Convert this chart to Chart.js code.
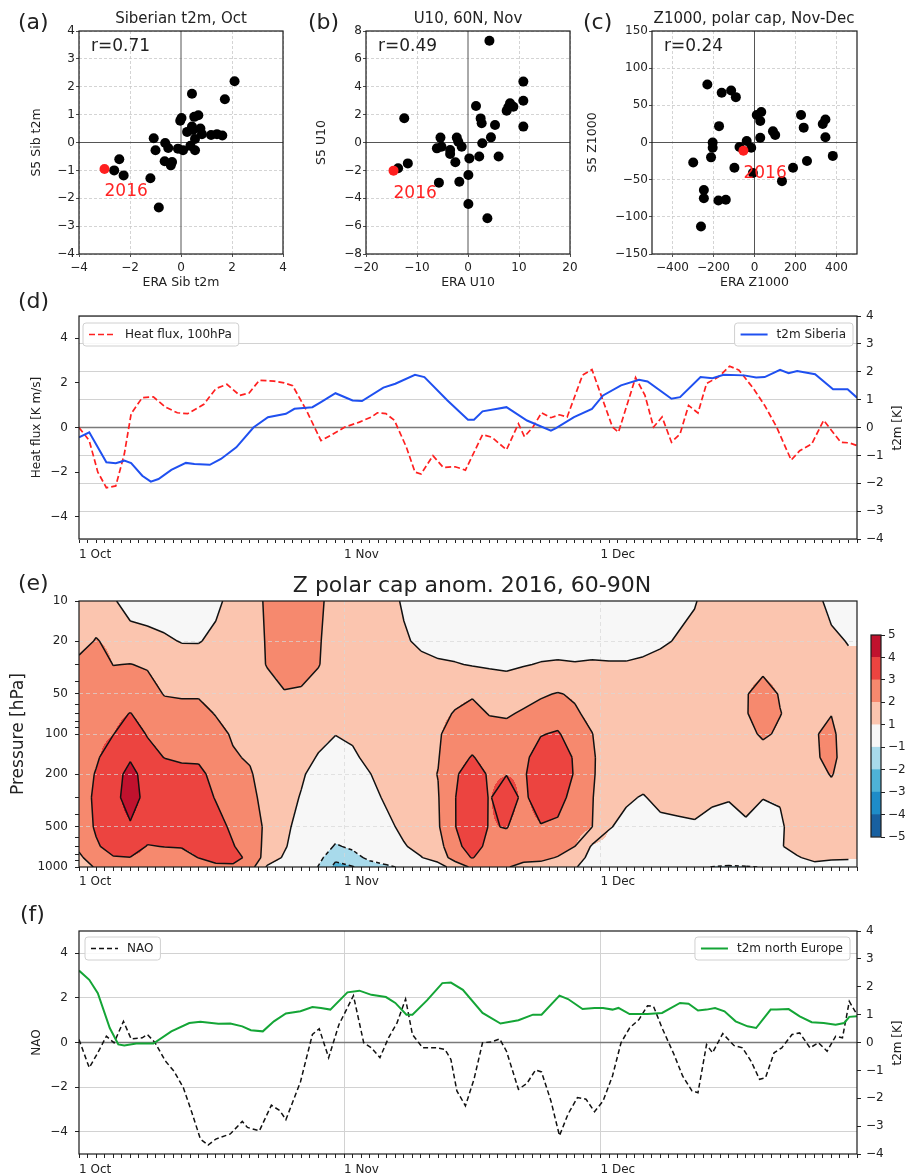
<!DOCTYPE html>
<html lang="en">
<head>
<meta charset="UTF-8">
<title>Autumn 2016: SEAS5 vs ERA, heat flux, polar cap Z, NAO</title>
<script src="https://cdn.jsdelivr.net/npm/chart.js"></script>
<style>
  body { margin: 0; background: #fff; }
  #fig { position: relative; width: 922px; height: 1174px; overflow: hidden;
         font-family: 'DejaVu Sans', sans-serif; color: #222; }
  #fig canvas { position: absolute; }
  .lbl { position: absolute; white-space: nowrap; line-height: 1; }
  .ctr { transform: translate(-50%, -50%); }
  .rot { transform: translate(-50%, -50%) rotate(-90deg); }
</style>
</head>
<body>
<div id="fig">
  <canvas id="cA" style="left:0;top:0" width="300" height="295"></canvas>
  <canvas id="cB" style="left:300px;top:0" width="285" height="295"></canvas>
  <canvas id="cC" style="left:585px;top:0" width="337" height="295"></canvas>
  <canvas id="cD" style="left:0;top:290px" width="922" height="270"></canvas>
  <canvas id="cE" style="left:0;top:560px" width="922" height="330"></canvas>
  <canvas id="cBar" style="left:860px;top:620px" width="62" height="232"></canvas>
  <canvas id="cF" style="left:0;top:890px" width="922" height="284"></canvas>

  <div class="lbl" style="left:18px;top:11px;font-size:22px">(a)</div>
  <div class="lbl" style="left:308px;top:11px;font-size:22px">(b)</div>
  <div class="lbl" style="left:583px;top:11px;font-size:22px">(c)</div>
  <div class="lbl" style="left:18px;top:290px;font-size:22px">(d)</div>
  <div class="lbl" style="left:18px;top:572px;font-size:22px">(e)</div>
  <div class="lbl" style="left:20px;top:903px;font-size:22px">(f)</div>

  <div class="lbl ctr" style="left:181px;top:18px;font-size:15px">Siberian t2m, Oct</div>
  <div class="lbl ctr" style="left:468px;top:18px;font-size:15px">U10, 60N, Nov</div>
  <div class="lbl ctr" style="left:754px;top:18px;font-size:15px">Z1000, polar cap, Nov-Dec</div>
  <div class="lbl ctr" style="left:472px;top:585px;font-size:22px">Z polar cap anom. 2016, 60-90N</div>
  <div class="lbl rot" style="left:897px;top:428px;font-size:12px">t2m [K]</div>
  <div class="lbl rot" style="left:897px;top:1043px;font-size:12px">t2m [K]</div>
</div>

<script>
// ---------- scatter panels: ERA (x) vs SEAS5 (y), one point per year ----------
const aEra = [2.1, 0.43, 1.72, 0.02, -0.03, 0.52, 0.68, 0.43, 0.24, 0.76, 0.47, 0.82, 0.55, 1.18, 1.41, 1.62,
              -1.07, -0.62, -1.0, -0.5, -0.12, 0.08, 0.37, 0.55, -0.64, -0.35, -0.4, -2.42, -2.62, -2.25, -1.2, -0.87];
const aS5  = [2.2, 1.75, 1.55, 0.88, 0.78, 0.92, 0.98, 0.57, 0.38, 0.5, 0.45, 0.3, 0.13, 0.27, 0.3, 0.25,
              0.15, -0.02, -0.28, -0.2, -0.22, -0.28, -0.12, -0.28, -0.67, -0.7, -0.82, -0.6, -1.0, -1.18, -1.28, -2.33];
const a2016 = [-3.0, -0.95];

const bEra = [4.2, 10.85, 10.85, 10.85, 1.57, 7.58, 8.24, 8.9, 7.9, 2.48, 2.68, 5.3, 4.5, 2.8, 6.0, 2.2, 0.26,
              -12.5, -5.4, -6.1, -5.2, -3.5, -3.5, -2.2, -1.9, -1.24, -2.48, -11.8, -13.7, -5.7, -1.7, 0.07, 0.07, 3.8];
const bS5  = [7.3, 4.37, 3.0, 1.14, 2.62, 2.28, 2.81, 2.57, 2.52, 1.73, 1.38, 1.26, 0.37, -0.06, -1.0, -1.0, -1.14,
              1.74, 0.35, -0.42, -0.3, -0.54, -0.83, 0.35, 0.06, -0.3, -1.42, -1.5, -1.85, -2.88, -2.81, -2.33, -4.41, -5.44];
const b2016 = [-14.6, -2.02];

const cEra = [-230, -160, -114, -91, -173, -204, -204, -212, -299, -247, -247, -176, -140, -261, -98, -73, -38,
              -16, -8, 11, 33, 28, 28, 90, 101, 134, 188, 227, 240, 256, 333, 346, 346, 382];
const cS5  = [78, 67, 70, 61, 22, 0, -7, -20, -27, -64, -75, -78, -77, -113, -34, -6, 2,
              -7, -41, 37, 41, 29, 6.5, 15, 10, -52, -34, 37, 20, -25, 25, 31, 7, -18];
const c2016 = [-54, -11];

const corrA = 'r=0.71', corrB = 'r=0.49', corrC = 'r=0.24';
const yearLabel = '2016';

const aXTicks = [-4, -2, 0, 2, 4], aYTicks = [-4, -3, -2, -1, 0, 1, 2, 3, 4];
const bXTicks = [-20, -10, 0, 10, 20], bYTicks = [-8, -6, -4, -2, 0, 2, 4, 6, 8];
const cXTicks = [-400, -200, 0, 200, 400], cYTicks = [-150, -100, -50, 0, 50, 100, 150];

// ---------- time series, day 0 = 1 Oct 2016 ----------
const monthStarts = [0, 31, 61];
const monthLabels = ['1 Oct', '1 Nov', '1 Dec'];
const dayTicks = Array.from({ length: 92 }, (_, i) => i);

const hfDays = [0, 1.2, 2.2, 3.2, 4.3, 5.3, 6.1, 7.4, 8.7, 10.1, 11.5, 12.7, 14.6, 16, 17.3, 18.8, 19.9, 21.1, 22.8, 24,
                25, 26.6, 28.3, 29.4, 31.1, 32.8, 34.2, 34.9, 35.9, 36.9, 38.3, 39.3, 40, 41.4, 42.6, 44, 45.2, 47.2,
                48.3, 50, 51.4, 52.1, 53.1, 54.1, 55.2, 56.2, 57.1, 58.9, 60, 61, 62.4, 63.1, 65.1, 66.2, 67.2, 68.2,
                69.3, 70.3, 71.3, 72.4, 73.4, 74.8, 76.1, 77.2, 78.9, 80.2, 81.6, 83.3, 84.3, 85.7, 87.1, 89.1, 90.1, 91];
const heatFlux = [0, -0.59, -2.0, -2.7, -2.62, -1.19, 0.62, 1.34, 1.37, 0.92, 0.66, 0.62, 1.04, 1.74, 1.94, 1.44, 1.55, 2.12, 2.08, 2.0,
                  1.87, 0.77, -0.59, -0.36, 0.02, 0.24, 0.47, 0.66, 0.62, 0.32, -0.89, -2.0, -2.09, -1.26, -1.79, -1.76, -1.91, -0.32,
                  -0.44, -1.0, 0.17, -0.41, 0.02, 0.66, 0.44, 0.57, 0.47, 2.35, 2.6, 1.52, 0.02, -0.21, 2.24, 1.44, 0.02, 0.47,
                  -0.66, -0.29, 0.99, 0.65, 1.97, 2.27, 2.75, 2.57, 1.74, 0.99, 0.02, -1.46, -1.04, -0.74, 0.32, -0.66, -0.69, -0.81];

const sibDays = [0, 1.2, 3.2, 4.3, 5.3, 6.1, 7.4, 8.4, 9.3, 10.8, 12.5, 13.5, 15.3, 16.6, 18.4, 20.4, 22.1, 24.2, 25.2, 27.3,
                 28.3, 30, 32, 33.1, 35.6, 37, 39.3, 40.4, 43.1, 45.5, 46.2, 47.2, 50, 52.4, 55.2, 55.8, 57.9, 60, 61.3, 63.4,
                 65.5, 66.5, 69.3, 70.3, 72.7, 74.1, 75.4, 77.8, 79.2, 80.2, 82, 83, 84, 86.1, 88.2, 89.9, 91];
const sibT2m = [-0.35, -0.17, -1.25, -1.28, -1.19, -1.28, -1.73, -1.94, -1.85, -1.52, -1.27, -1.31, -1.34, -1.13, -0.71, 0, 0.37, 0.49, 0.67, 0.73,
                0.91, 1.23, 0.97, 0.95, 1.43, 1.57, 1.89, 1.81, 0.97, 0.28, 0.28, 0.58, 0.73, 0.25, -0.11, -0.02, 0.37, 0.67, 1.15, 1.51,
                1.71, 1.65, 1.03, 1.09, 1.81, 1.77, 1.89, 1.87, 1.79, 1.81, 2.07, 1.95, 2.03, 1.91, 1.37, 1.37, 1.07];

const naoDays = [0, 1.2, 2.2, 3.2, 4.1, 5.2, 6.1, 7.4, 8, 8.9, 10.1, 11.1, 12.2, 13.2, 14.2, 15.1, 16, 17.7, 19.1, 19.7, 21.1,
                 22.5, 23.5, 24.2, 25.9, 27.3, 28.1, 29.2, 30.4, 32.1, 33.3, 34.2, 35.2, 36.2, 37.2, 38.2, 39, 40.2, 41.8,
                 42.8, 43.5, 44.2, 45.2, 46.2, 47.2, 48.3, 49.2, 50, 51.4, 52.4, 53.4, 54.1, 55.2, 56.2, 57.2, 58.3, 59.3,
                 60.3, 61.3, 62.4, 63.4, 64.4, 65.5, 66.5, 67.2, 68.2, 69.6, 70.6, 71.7, 72.4, 73.4, 74.1, 75.3, 76.6, 77.6,
                 78.6, 79.6, 80.3, 81.3, 82.2, 83.4, 84.3, 85.5, 86.5, 87.5, 88.5, 89.3, 90.1, 91];
const nao = [0.13, -1.13, -0.46, 0.28, -0.01, 0.95, 0.16, 0.21, 0.36, -0.01, -0.83, -1.28, -2.02, -3.14, -4.33, -4.6, -4.33, -4.1, -3.54, -3.81, -3.96,
             -2.81, -3.06, -3.46, -1.77, 0.36, 0.62, -0.68, 0.8, 2.1, -0.01, -0.24, -0.68, 0.21, 0.88, 1.95, 0.36, -0.24, -0.24,
             -0.31, -0.76, -2.17, -2.84, -1.65, -0.01, 0.03, 0.16, -0.39, -2.1, -1.83, -1.23, -1.32, -2.62, -4.18, -3.21, -2.47, -2.54,
             -3.1, -2.62, -1.5, -0.01, 0.65, 1.03, 1.65, 1.62, 0.65, -0.54, -1.5, -2.17, -2.25, -0.09, -0.46, 0.4, -0.13, -0.24,
             -0.83, -1.65, -1.58, -0.46, -0.24, 0.36, 0.43, -0.24, -0.01, -0.39, 0.28, 0.21, 1.84, 1.25];

const neuDays = [0, 1.2, 2.2, 3.6, 4.6, 5.3, 6.7, 8.7, 10.8, 12.9, 14.2, 16.3, 17.7, 19.1, 20.1, 21.5, 22.8, 24.2, 25.9, 27.3,
                 28.3, 29.4, 31.4, 32.8, 34.2, 35.9, 37, 38.3, 39, 40.7, 42.5, 43.5, 44.9, 47.2, 49.3, 51.4, 53.1, 54.1,
                 56.2, 57.2, 58.9, 60.3, 61.3, 62.4, 63.1, 64.4, 66.5, 68.2, 70.3, 71.3, 72.4, 73.4, 74.4, 75.5, 76.8,
                 78.2, 79.2, 80.9, 81.6, 83, 84.3, 85.7, 87.1, 88.5, 89.5, 90.1, 91];
const neuT2m = [2.58, 2.25, 1.77, 0.52, -0.07, -0.11, -0.04, -0.04, 0.4, 0.7, 0.74, 0.67, 0.68, 0.58, 0.44, 0.4, 0.76, 1.04, 1.12, 1.27,
                1.24, 1.18, 1.8, 1.86, 1.71, 1.63, 1.42, 1.0, 1.0, 1.51, 2.13, 2.15, 1.89, 1.06, 0.68, 0.8, 1.0, 1.0,
                1.68, 1.56, 1.2, 1.24, 1.24, 1.18, 1.24, 1.02, 1.02, 1.06, 1.42, 1.39, 1.15, 1.18, 1.24, 1.12, 0.76,
                0.58, 0.52, 1.18, 1.18, 1.2, 0.94, 0.73, 0.7, 0.64, 0.7, 0.92, 0.94];

const fluxTicks = [-4, -2, 0, 2, 4];
const tempTicks = [-4, -3, -2, -1, 0, 1, 2, 3, 4];

// ---------- polar cap Z anomaly (days x pressure levels) ----------
const zDays = Array.from({ length: 46 }, (_, i) => 2 * i);
const zLevels = [10, 20, 30, 50, 70, 100, 150, 200, 300, 500, 700, 850, 1000];
const z10   = [1.6, 1.5, 1.1, 0.6, 0.5, 0.4, 0.3, 0.4, 0.8, 1.3, 1.4, 2.2, 2.5, 2.5, 2.2, 1.6, 1.7, 1.6, 1.3, 0.9, 0.5, 0.4, 0.3,
               0.2, 0.2, 0.2, 0.3, 0.3, 0.3, 0.3, 0.3, 0.4, 0.4, 0.5, 0.6, 0.8, 0.95, 1.3, 1.4, 1.5, 1.5, 1.5, 1.5, 1.3, 0.7, 0.4];
const z20   = [1.7, 2.05, 1.8, 1.4, 1.3, 1.15, 0.95, 0.95, 1.2, 1.4, 1.4, 2.1, 2.4, 2.4, 2.1, 1.5, 1.6, 1.5, 1.4, 1.1, 0.85, 0.7, 0.6,
               0.5, 0.4, 0.4, 0.5, 0.6, 0.6, 0.6, 0.6, 0.7, 0.7, 0.8, 0.9, 1.05, 1.2, 1.4, 1.5, 1.6, 1.6, 1.6, 1.5, 1.4, 1.2, 0.95];
const z30   = [2.2, 2.5, 1.98, 2.02, 1.9, 1.6, 1.5, 1.45, 1.5, 1.5, 1.5, 2.05, 2.3, 2.3, 2.05, 1.5, 1.5, 1.5, 1.4, 1.3, 1.2, 1.1, 1.05,
               0.95, 0.9, 0.85, 0.95, 1.05, 1.1, 1.05, 1.1, 1.05, 1.05, 1.1, 1.2, 1.3, 1.4, 1.5, 1.5, 1.7, 1.8, 1.7, 1.6, 1.5, 1.5, 1.2];
const z50   = [2.5, 2.7, 2.5, 2.5, 2.4, 1.95, 1.9, 1.9, 1.7, 1.6, 1.5, 1.6, 1.95, 1.9, 1.6, 1.4, 1.4, 1.4, 1.4, 1.4, 1.5, 1.6, 1.8,
               1.9, 1.6, 1.5, 1.7, 1.9, 2.05, 1.9, 1.6, 1.4, 1.4, 1.4, 1.5, 1.5, 1.5, 1.5, 1.5, 1.95, 2.3, 1.95, 1.7, 1.6, 1.7, 1.5];
const z70   = [2.6, 2.8, 2.8, 3.02, 2.7, 2.4, 2.3, 2.3, 1.95, 1.7, 1.6, 1.4, 1.6, 1.6, 1.4, 1.25, 1.3, 1.35, 1.4, 1.5, 1.6, 1.8, 2.05,
               2.3, 1.95, 1.9, 2.1, 2.3, 2.5, 2.1, 1.8, 1.5, 1.5, 1.5, 1.5, 1.5, 1.5, 1.5, 1.5, 1.95, 2.35, 2.02, 1.8, 1.8, 1.98, 1.6];
const z100  = [2.6, 2.8, 2.98, 3.4, 2.95, 2.7, 2.6, 2.6, 2.3, 1.9, 1.7, 1.4, 1.5, 1.4, 1.2, 1.02, 1.1, 1.3, 1.4, 1.5, 1.6, 1.9, 2.4,
               2.6, 2.4, 2.3, 2.5, 2.95, 3.1, 2.5, 2.02, 1.6, 1.5, 1.5, 1.5, 1.5, 1.5, 1.5, 1.5, 1.8, 2.1, 1.9, 1.7, 1.95, 2.15, 1.6];
const z150  = [2.6, 2.9, 3.4, 3.9, 3.3, 2.98, 2.9, 2.9, 2.6, 2.1, 1.9, 1.4, 1.4, 1.25, 0.95, 0.7, 0.9, 1.15, 1.3, 1.5, 1.7, 1.95, 2.7,
               3.05, 2.7, 2.7, 2.8, 3.4, 3.5, 2.9, 2.1, 1.6, 1.5, 1.5, 1.5, 1.5, 1.5, 1.5, 1.45, 1.6, 1.7, 1.6, 1.6, 1.9, 2.2, 1.6];
const z200  = [2.6, 3.05, 3.6, 4.3, 3.6, 3.4, 3.2, 3.15, 2.8, 2.4, 2.1, 1.5, 1.35, 1.1, 0.7, 0.5, 0.7, 0.98, 1.25, 1.45, 1.75, 2.02, 2.9,
               3.4, 2.9, 2.98, 2.9, 3.5, 3.4, 2.95, 2.1, 1.55, 1.4, 1.3, 1.4, 1.4, 1.45, 1.4, 1.35, 1.4, 1.4, 1.4, 1.5, 1.7, 2.05, 1.6];
const z300  = [2.6, 3.15, 3.7, 4.4, 3.7, 3.6, 3.5, 3.4, 2.95, 2.6, 2.3, 1.6, 1.3, 0.95, 0.4, 0.2, 0.4, 0.8, 1.1, 1.35, 1.7, 1.95, 2.98,
               3.6, 2.95, 3.35, 2.85, 3.4, 3.2, 2.8, 2.05, 1.4, 1.1, 0.95, 1.2, 1.25, 1.3, 1.1, 1.05, 1.2, 1.02, 1.05, 1.4, 1.5, 1.7, 1.5];
const z500  = [2.5, 3.1, 3.6, 3.9, 3.5, 3.5, 3.4, 3.4, 3.3, 2.85, 2.5, 1.8, 1.2, 0.7, 0.1, -0.3, 0.02, 0.4, 0.85, 1.15, 1.5, 1.9, 2.98,
               3.5, 2.95, 3.03, 2.7, 2.95, 2.9, 2.5, 2.02, 1.05, 0.8, 0.6, 0.8, 0.85, 0.9, 0.8, 0.7, 0.9, 0.7, 0.9, 1.3, 1.4, 1.5, 1.4];
const z700  = [2.2, 2.9, 3.3, 3.5, 2.95, 3.02, 3.05, 3.2, 3.4, 3.05, 2.6, 1.7, 1.1, 0.5, -0.3, -1.12, -0.8, 0.02, 0.5, 0.95, 1.2, 1.6, 2.8,
               3.3, 2.8, 2.7, 2.5, 2.6, 2.4, 2.0, 0.9, 0.7, 0.6, 0.5, 0.5, 0.5, 0.5, 0.5, 0.4, 0.5, 0.4, 0.95, 1.2, 1.3, 1.4, 1.3];
const z850  = [1.8, 2.6, 2.95, 2.98, 2.7, 2.7, 2.7, 3.02, 3.3, 3.2, 2.85, 1.5, 0.9, 0.3, -0.7, -1.75, -1.4, -0.75, 0.0, 0.6, 0.97, 1.3, 2.5,
               3.05, 2.5, 2.4, 2.2, 2.2, 1.95, 1.6, 0.6, 0.5, 0.4, 0.3, 0.3, 0.3, 0.2, 0.2, 0.1, 0.2, 0.2, 0.6, 0.95, 1.15, 1.1, 1.05];
const z1000 = [1.5, 2.1, 2.5, 2.6, 2.5, 2.5, 2.4, 2.6, 2.8, 2.9, 2.4, 0.9, 0.6, 0.1, -1.05, -2.3, -2.05, -1.5, -1.3, -0.7, 0.4, 0.7, 1.3,
               2.2, 2.1, 2.05, 1.8, 1.7, 1.4, 1.1, 0.4, 0.3, 0.2, 0.2, 0.2, 0.1, -0.3, -1.05, -1.2, -1.1, -0.95, 0.3, 0.5, 0.8, 0.7, 0.8];
const zField = [z10, z20, z30, z50, z70, z100, z150, z200, z300, z500, z700, z850, z1000];
const pTicks = [10, 20, 30, 40, 50, 60, 70, 80, 90, 100, 200, 300, 400, 500, 600, 700, 800, 900, 1000];
const pLabelled = [10, 20, 50, 100, 200, 500, 1000];

const zEdges = [-5, -4, -3, -2, -1, 1, 2, 3, 4, 5];
const bandRGB = [[24, 96, 160], [30, 140, 200], [78, 178, 215], [168, 218, 235], [247, 247, 247],
                 [251, 197, 175], [246, 137, 110], [236, 68, 64], [193, 18, 46]];

// ---------- helpers ----------
Chart.defaults.font.family = "'DejaVu Sans', sans-serif";
Chart.defaults.color = '#222';

const fmt = v => String(v).replace('-', '\u2212');
const setTicks = vals => ax => { ax.ticks = vals.map(v => ({ value: v })); };
const pts = (xs, ys) => xs.map((x, i) => ({ x, y: ys[i] }));
const isZero = c => c.tick && c.tick.value === 0;

const framePlugin = {
  id: 'frame',
  afterDatasetsDraw(chart) {
    const { ctx, chartArea: a } = chart;
    ctx.save();
    ctx.strokeStyle = '#1a1a1a';
    ctx.lineWidth = 1.2;
    ctx.strokeRect(a.left, a.top, a.right - a.left, a.bottom - a.top);
    ctx.restore();
  }
};

// axhline / axvline at zero
const zeroLines = {
  id: 'zeroLines',
  beforeDatasetsDraw(chart, args, opts) {
    const { ctx, chartArea: a, scales } = chart;
    ctx.save();
    ctx.strokeStyle = opts.color || '#555';
    ctx.lineWidth = opts.width || 1;
    ctx.beginPath();
    if (opts.x) {
      const px = scales.x.getPixelForValue(0);
      ctx.moveTo(px, a.top); ctx.lineTo(px, a.bottom);
    }
    if (opts.y) {
      const py = scales.y.getPixelForValue(0);
      ctx.moveTo(a.left, py); ctx.lineTo(a.right, py);
    }
    ctx.stroke();
    ctx.restore();
  }
};

// correlation text and year label next to the red point
const notes = {
  id: 'notes',
  afterDatasetsDraw(chart, args, opts) {
    const { ctx, chartArea: a, scales: { x, y } } = chart;
    const p = chart.data.datasets[0].data[0];
    ctx.save();
    ctx.font = "17px 'DejaVu Sans'";
    ctx.textAlign = 'left';
    ctx.textBaseline = 'middle';
    ctx.fillStyle = '#222';
    ctx.fillText(opts.r, a.left + 12, a.top + 16);
    ctx.textBaseline = 'alphabetic';
    ctx.fillStyle = '#ff2424';
    ctx.fillText(yearLabel, x.getPixelForValue(p.x), y.getPixelForValue(p.y) + 27);
    ctx.restore();
  }
};

// matplotlib-like legend box inside the axes
const boxLegend = {
  id: 'boxLegend',
  afterDatasetsDraw(chart, args, opts) {
    const { ctx, chartArea: a } = chart;
    (opts.items || []).forEach(it => {
      const ds = chart.data.datasets[it.ds];
      ctx.save();
      ctx.font = "12px 'DejaVu Sans'";
      const w = 42 + ctx.measureText(ds.label).width + 7, h = 23;
      const bx = it.side === 'left' ? a.left + it.dx : a.right - it.dx - w;
      const by = a.top + it.dy;
      ctx.beginPath();
      ctx.roundRect(bx, by, w, h, 3);
      ctx.fillStyle = 'rgba(255,255,255,0.85)';
      ctx.fill();
      ctx.strokeStyle = '#d0d0d0';
      ctx.lineWidth = 1;
      ctx.stroke();
      ctx.beginPath();
      ctx.strokeStyle = ds.borderColor;
      ctx.lineWidth = ds.borderWidth;
      ctx.setLineDash(ds.borderDash || []);
      ctx.moveTo(bx + 6, by + h / 2);
      ctx.lineTo(bx + 33, by + h / 2);
      ctx.stroke();
      ctx.setLineDash([]);
      ctx.fillStyle = '#222';
      ctx.textBaseline = 'middle';
      ctx.fillText(ds.label, bx + 42, by + h / 2 + 0.5);
      ctx.restore();
    });
  }
};

function scatterPanel(id, o) {
  return new Chart(document.getElementById(id), {
    type: 'scatter',
    data: {
      datasets: [
        { data: [{ x: o.red[0], y: o.red[1] }], backgroundColor: '#ff1f1f', pointRadius: 5, borderWidth: 0 },
        { data: pts(o.xs, o.ys), backgroundColor: '#000', pointRadius: 5, borderWidth: 0 }
      ]
    },
    options: {
      responsive: false, animation: false, events: [],
      layout: { padding: { top: 31, right: o.padRight, left: 0, bottom: 0 } },
      plugins: { legend: { display: false }, tooltip: { enabled: false },
                 zeroLines: { x: true, y: true, color: '#555', width: 1 }, notes: { r: o.r } },
      scales: {
        x: {
          type: 'linear', min: o.xRange[0], max: o.xRange[1],
          afterBuildTicks: setTicks(o.xTicks), afterFit: ax => { ax.height = 41; },
          ticks: { autoSkip: false, maxRotation: 0, padding: 4, font: { size: 12 }, callback: fmt },
          grid: { color: c => isZero(c) ? 'rgba(0,0,0,0)' : '#c9c9c9', lineWidth: 0.8, tickLength: 3, tickColor: '#222' },
          border: { display: false, dash: [3, 2] },
          title: { display: true, text: o.xTitle, font: { size: 12.5 }, padding: { top: 0, bottom: 4.5 } }
        },
        y: {
          type: 'linear', min: o.yRange[0], max: o.yRange[1],
          afterBuildTicks: setTicks(o.yTicks), afterFit: ax => { ax.width = o.yWidth; },
          ticks: { autoSkip: false, padding: 1, font: { size: 12 }, callback: fmt },
          grid: { color: c => isZero(c) ? 'rgba(0,0,0,0)' : '#c9c9c9', lineWidth: 0.8, tickLength: 3, tickColor: '#222' },
          border: { display: false, dash: [3, 2] },
          title: { display: true, text: o.yTitle, font: { size: 12.5 }, padding: { top: o.yTitlePad, bottom: 0 } }
        }
      }
    },
    plugins: [zeroLines, framePlugin, notes]
  });
}

scatterPanel('cA', { xs: aEra, ys: aS5, red: a2016, r: corrA, xRange: [-4, 4], yRange: [-4, 4],
  xTicks: aXTicks, yTicks: aYTicks, xTitle: 'ERA Sib t2m', yTitle: 'S5 Sib t2m', yWidth: 79, yTitlePad: 29.5, padRight: 17 });
scatterPanel('cB', { xs: bEra, ys: bS5, red: b2016, r: corrB, xRange: [-20, 20], yRange: [-8, 8],
  xTicks: bXTicks, yTicks: bYTicks, xTitle: 'ERA U10', yTitle: 'S5 U10', yWidth: 66, yTitlePad: 14.5, padRight: 15 });
scatterPanel('cC', { xs: cEra, ys: cS5, red: c2016, r: corrC, xRange: [-500, 500], yRange: [-150, 150],
  xTicks: cXTicks, yTicks: cYTicks, xTitle: 'ERA Z1000', yTitle: 'S5 Z1000', yWidth: 67, yTitlePad: 0, padRight: 65 });

// ---------- time axis shared by (d), (e), (f) ----------
function timeAxis(height, vgrid, dashed, pad) {
  return {
    type: 'linear', min: 0, max: 91,
    afterBuildTicks: setTicks(dayTicks), afterFit: ax => { ax.height = height; },
    ticks: { autoSkip: false, maxRotation: 0, align: 'start', padding: pad, font: { size: 12 },
             callback: v => { const k = monthStarts.indexOf(v); return k >= 0 ? monthLabels[k] : ''; } },
    grid: { drawOnChartArea: vgrid, tickLength: 4, tickColor: '#222',
            color: c => (c.tick && monthStarts.indexOf(c.tick.value) > 0) ? (dashed ? 'rgba(215,215,215,0.7)' : '#d2d2d2') : 'rgba(0,0,0,0)' },
    border: { display: false, dash: dashed ? [4, 3] : [] }
  };
}

function seriesPanel(id, o) {
  return new Chart(document.getElementById(id), {
    type: 'scatter',
    data: {
      datasets: o.series.map(s => ({
        label: s.label, data: pts(s.days, s.vals), yAxisID: s.axis, showLine: true, pointRadius: 0,
        borderColor: s.color, borderWidth: s.width, borderDash: s.dash || [], fill: false, tension: 0
      }))
    },
    options: {
      responsive: false, animation: false, events: [],
      layout: { padding: { top: o.top, left: 0, right: 0, bottom: 0 } },
      plugins: { legend: { display: false }, tooltip: { enabled: false },
                 zeroLines: { y: true, color: '#7a7a7a', width: 1.6 }, boxLegend: { items: o.legend } },
      scales: {
        x: timeAxis(o.xHeight, o.vgrid, false, 5),
        y: {
          position: 'left', min: -5, max: 5,
          afterBuildTicks: setTicks(fluxTicks), afterFit: ax => { ax.width = 79; },
          ticks: { autoSkip: false, padding: 7, font: { size: 12 }, callback: fmt },
          grid: { drawOnChartArea: o.leftGrid, color: c => isZero(c) ? 'rgba(0,0,0,0)' : '#d2d2d2', tickLength: 4, tickColor: '#222' },
          border: { display: false },
          title: { display: true, text: o.yTitle, font: { size: 12 }, padding: { top: 29.5, bottom: 0 } }
        },
        y1: {
          position: 'right', min: -4, max: 4,
          afterBuildTicks: setTicks(tempTicks), afterFit: ax => { ax.width = 65; },
          ticks: { autoSkip: false, padding: 5, font: { size: 12 }, callback: fmt },
          grid: { drawOnChartArea: !o.leftGrid, color: c => isZero(c) ? 'rgba(0,0,0,0)' : '#d2d2d2', tickLength: 4, tickColor: '#222' },
          border: { display: false }
        }
      }
    },
    plugins: [zeroLines, framePlugin, boxLegend]
  });
}

seriesPanel('cD', {
  top: 26, xHeight: 21, vgrid: false, leftGrid: false, yTitle: 'Heat flux [K m/s]',
  series: [
    { label: 't2m Siberia', days: sibDays, vals: sibT2m, axis: 'y1', color: '#1f50f0', width: 2 },
    { label: 'Heat flux, 100hPa', days: hfDays, vals: heatFlux, axis: 'y', color: '#ff2020', width: 1.7, dash: [6, 3] }
  ],
  legend: [{ ds: 1, side: 'left', dx: 4, dy: 7 }, { ds: 0, side: 'right', dx: 4, dy: 7 }]
});

seriesPanel('cF', {
  top: 41, xHeight: 20, vgrid: true, leftGrid: true, yTitle: 'NAO',
  series: [
    { label: 't2m north Europe', days: neuDays, vals: neuT2m, axis: 'y1', color: '#14a536', width: 2 },
    { label: 'NAO', days: naoDays, vals: nao, axis: 'y', color: '#111', width: 1.5, dash: [5, 3] }
  ],
  legend: [{ ds: 1, side: 'left', dx: 6, dy: 6 }, { ds: 0, side: 'right', dx: 7, dy: 6 }]
});

// ---------- (e) filled contours ----------
function bandIndex(v) {
  let k = 0;
  while (k < bandRGB.length - 1 && v >= zEdges[k + 1]) k++;
  return k;
}

const contourPlot = {
  id: 'contourPlot',
  beforeDraw(chart) {
    const { ctx, chartArea: a, scales: { x, y } } = chart;
    const W = Math.round(a.right - a.left), H = Math.round(a.bottom - a.top);
    const lp = zLevels.map(Math.log10);
    const nd = zDays.length, nl = lp.length;
    const cols = [], rows = [];
    for (let i = 0; i < W; i++) {
      const d = Math.min(Math.max(x.getValueForPixel(a.left + i + 0.5), zDays[0]), zDays[nd - 1]);
      let k = 0;
      while (k < nd - 2 && d > zDays[k + 1]) k++;
      cols.push([k, (d - zDays[k]) / (zDays[k + 1] - zDays[k])]);
    }
    for (let j = 0; j < H; j++) {
      const l = Math.min(Math.max(Math.log10(y.getValueForPixel(a.top + j + 0.5)), lp[0]), lp[nl - 1]);
      let k = 0;
      while (k < nl - 2 && l > lp[k + 1]) k++;
      rows.push([k, (l - lp[k]) / (lp[k + 1] - lp[k])]);
    }
    const img = ctx.createImageData(W, H);
    for (let j = 0; j < H; j++) {
      const [r, ty] = rows[j];
      const z0 = zField[r], z1 = zField[r + 1];
      for (let i = 0; i < W; i++) {
        const [c, tx] = cols[i];
        const v = (1 - ty) * ((1 - tx) * z0[c] + tx * z0[c + 1]) + ty * ((1 - tx) * z1[c] + tx * z1[c + 1]);
        const rgb = bandRGB[bandIndex(v)];
        const p = 4 * (j * W + i);
        img.data[p] = rgb[0]; img.data[p + 1] = rgb[1]; img.data[p + 2] = rgb[2]; img.data[p + 3] = 255;
      }
    }
    ctx.putImageData(img, Math.round(a.left), Math.round(a.top));
  },
  afterDatasetsDraw(chart) {
    const { ctx, chartArea: a, scales: { x, y } } = chart;
    const lp = zLevels.map(Math.log10);
    const toPx = q => [x.getPixelForValue(q[0]), y.getPixelForValue(Math.pow(10, q[1]))];
    ctx.save();
    ctx.beginPath();
    ctx.rect(a.left, a.top, a.right - a.left, a.bottom - a.top);
    ctx.clip();
    ctx.strokeStyle = '#111';
    ctx.lineWidth = 1.5;
    ctx.lineJoin = 'round';
    zEdges.forEach(level => {
      ctx.setLineDash(level < 0 ? [4, 3] : []);
      ctx.beginPath();
      for (let j = 0; j < lp.length - 1; j++) {
        for (let i = 0; i < zDays.length - 1; i++) {
          const cr = [[zDays[i], lp[j], zField[j][i]], [zDays[i + 1], lp[j], zField[j][i + 1]],
                      [zDays[i + 1], lp[j + 1], zField[j + 1][i + 1]], [zDays[i], lp[j + 1], zField[j + 1][i]]];
          const hits = [];
          for (let k = 0; k < 4; k++) {
            const p = cr[k], q = cr[(k + 1) % 4];
            if ((p[2] >= level) !== (q[2] >= level)) {
              const t = (level - p[2]) / (q[2] - p[2]);
              hits.push([p[0] + t * (q[0] - p[0]), p[1] + t * (q[1] - p[1])]);
            }
          }
          let segs = [];
          if (hits.length === 2) segs = [[hits[0], hits[1]]];
          else if (hits.length === 4) {
            const mid = (cr[0][2] + cr[1][2] + cr[2][2] + cr[3][2]) / 4;
            segs = ((mid >= level) === (cr[0][2] >= level))
              ? [[hits[0], hits[1]], [hits[2], hits[3]]]
              : [[hits[3], hits[0]], [hits[1], hits[2]]];
          }
          segs.forEach(s => {
            const p0 = toPx(s[0]), p1 = toPx(s[1]);
            ctx.moveTo(p0[0], p0[1]);
            ctx.lineTo(p1[0], p1[1]);
          });
        }
      }
      ctx.stroke();
    });
    ctx.restore();
  }
};

new Chart(document.getElementById('cE'), {
  type: 'scatter',
  data: { datasets: [{ data: [] }] },
  options: {
    responsive: false, animation: false, events: [],
    layout: { padding: { top: 41, right: 65, left: 0, bottom: 0 } },
    plugins: { legend: { display: false }, tooltip: { enabled: false } },
    scales: {
      x: timeAxis(23, true, true, 4),
      y: {
        type: 'logarithmic', reverse: true, min: 10, max: 1000,
        afterBuildTicks: setTicks(pTicks), afterFit: ax => { ax.width = 79; },
        ticks: { autoSkip: false, padding: 7, font: { size: 12 },
                 callback: v => pLabelled.includes(v) ? String(v) : '' },
        grid: { tickLength: 4, tickColor: '#222',
                color: c => (c.tick && pLabelled.includes(c.tick.value) && c.tick.value !== 10 && c.tick.value !== 1000)
                  ? 'rgba(215,215,215,0.7)' : 'rgba(0,0,0,0)' },
        border: { display: false, dash: [4, 3] },
        title: { display: true, text: 'Pressure [hPa]', font: { size: 17 }, padding: { top: 8, bottom: 0 } }
      }
    }
  },
  plugins: [contourPlot, framePlugin]
});

// ---------- colorbar ----------
new Chart(document.getElementById('cBar'), {
  type: 'bar',
  data: {
    labels: [''],
    datasets: bandRGB.map((c, i) => ({
      data: [[i, i + 1]], backgroundColor: 'rgb(' + c.join(',') + ')',
      grouped: false, barPercentage: 1, categoryPercentage: 1, borderWidth: 0
    }))
  },
  options: {
    responsive: false, animation: false, events: [],
    layout: { padding: { top: 15, bottom: 15, left: 11, right: 0 } },
    plugins: { legend: { display: false }, tooltip: { enabled: false } },
    scales: {
      x: { display: false },
      y: {
        position: 'right', min: 0, max: zEdges.length - 1,
        afterBuildTicks: setTicks(zEdges.map((_, i) => i)), afterFit: ax => { ax.width = 41; },
        ticks: { autoSkip: false, padding: 3, font: { size: 12 }, callback: v => fmt(zEdges[v]) },
        grid: { drawOnChartArea: false, tickLength: 4, tickColor: '#222' },
        border: { display: false }
      }
    }
  },
  plugins: [framePlugin]
});
</script>
</body>
</html>
